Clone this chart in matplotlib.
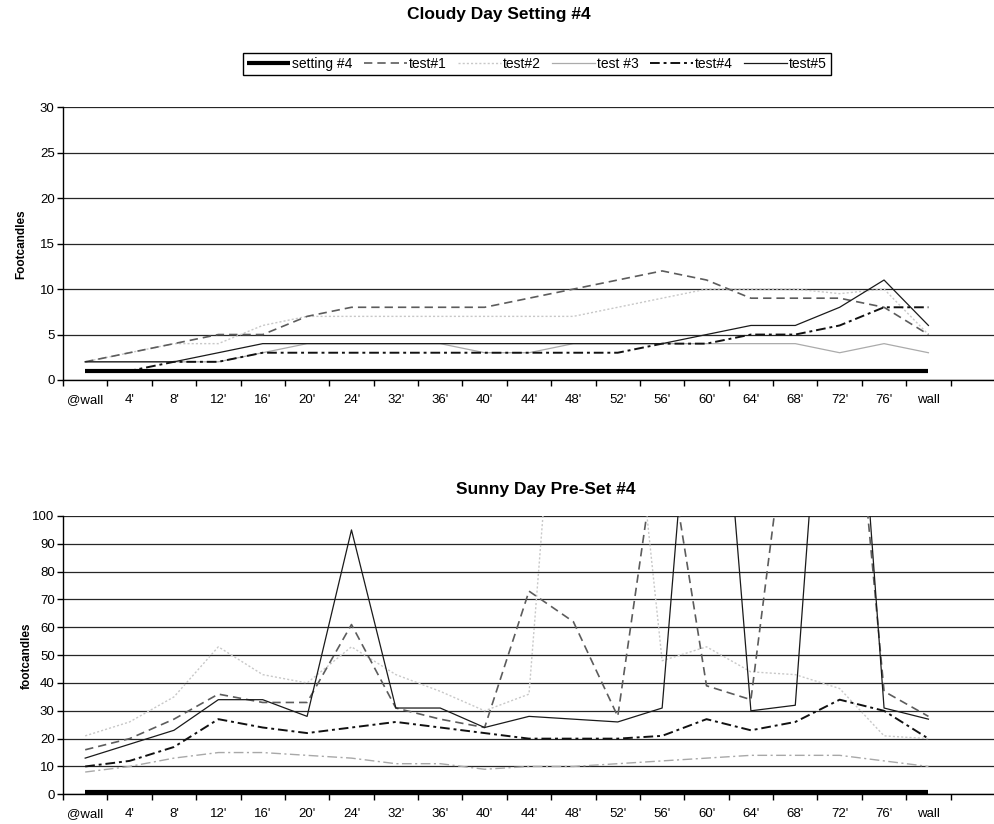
import matplotlib
matplotlib.use("Agg")
import matplotlib.pyplot as plt
from matplotlib.lines import Line2D
import numpy as np

plt.rcParams['font.family'] = ['Liberation Sans', 'DejaVu Sans']

# Measurement positions along the room
positions = ["@wall", "4'", "8'", "12'", "16'", "20'", "24'", "32'", "36'", "40'",
             "44'", "48'", "52'", "56'", "60'", "64'", "68'", "72'", "76'", "wall"]

series_names = ["setting #4", "test#1", "test#2", "test #3", "test#4", "test#5"]

# Cloudy day readings (footcandles)
cloudy_setting4 = [1] * 20
cloudy_test1 = [2, 3, 4, 5, 5, 7, 8, 8, 8, 8, 9, 10, 11, 12, 11, 9, 9, 9, 8, 5]
cloudy_test2 = [2, 3, 4, 4, 6, 7, 7, 7, 7, 7, 7, 7, 8, 9, 10, 10, 10, 9.5, 10, 5]
cloudy_test3 = [2, 2, 2, 2, 3, 4, 4, 4, 4, 3, 3, 4, 4, 4, 4, 4, 4, 3, 4, 3]
cloudy_test4 = [1, 1, 2, 2, 3, 3, 3, 3, 3, 3, 3, 3, 3, 4, 4, 5, 5, 6, 8, 8]
cloudy_test5 = [2, 2, 2, 3, 4, 4, 4, 4, 4, 4, 4, 4, 4, 4, 5, 6, 6, 8, 11, 6]

# Sunny day readings (footcandles)
sunny_setting4 = [1] * 20
sunny_test1 = [16, 20, 27, 36, 33, 33, 61, 31, 27, 24, 73, 62, 28, 139, 39, 34, 160, 210, 37, 28]
sunny_test2 = [21, 26, 35, 53, 43, 40, 53, 43, 37, 30, 36, 240, 200, 48, 53, 44, 43, 38, 21, 20]
sunny_test3 = [8, 10, 13, 15, 15, 14, 13, 11, 11, 9, 10, 10, 11, 12, 13, 14, 14, 14, 12, 10]
sunny_test4 = [10, 12, 17, 27, 24, 22, 24, 26, 24, 22, 20, 20, 20, 21, 27, 23, 26, 34, 30, 20]
sunny_test5 = [13, 18, 23, 34, 34, 28, 95, 31, 31, 24, 28, 27, 26, 31, 225, 30, 32, 250, 31, 27]

W, H = 995, 824
fig = plt.figure(figsize=(W / 100, H / 100), dpi=100)

styles = [
    dict(color='black', lw=3.0, solid_capstyle='butt'),
    dict(color='#5c5c5c', lw=1.2, dashes=(5, 3)),
    dict(color='#c8c8c8', lw=1.0, dashes=(1.5, 1.5)),
    dict(color='#ababab', lw=0.9),
    dict(color='#111111', lw=1.4, dashes=(5, 2, 1.5, 2)),
    dict(color='#1a1a1a', lw=0.9),
]
sunny_test3_style = dict(color='#a8a8a8', lw=1.0, dashes=(7, 2.5, 1.5, 2.5))

x = np.arange(len(positions))
XMAX = 20.165


def setup_axes(ax, ymax, ystep):
    ax.set_xlim(-0.5, XMAX)
    ax.set_ylim(0, ymax)
    ax.set_yticks(np.arange(0, ymax + 0.1, ystep))
    ax.set_yticklabels([f"{v:g}" for v in np.arange(0, ymax + 0.1, ystep)])
    ax.yaxis.grid(True, color='#262626', lw=0.9)
    ax.set_axisbelow(True)
    for s in ('top', 'right'):
        ax.spines[s].set_visible(False)
    for s in ('left', 'bottom'):
        ax.spines[s].set_color('black')
        ax.spines[s].set_linewidth(1.0)
    # ticks at category boundaries, labels at category centres
    ax.set_xticks(np.arange(-0.5, 20.6, 1.0))
    ax.set_xticklabels([])
    ax.set_xticks(x, minor=True)
    ax.set_xticklabels(positions, minor=True)
    ax.tick_params(axis='x', which='major', direction='out', length=4, width=1, color='black')
    ax.tick_params(axis='x', which='minor', length=0, pad=10, labelsize=9.5)
    ax.tick_params(axis='y', direction='out', length=4, width=1, pad=2, labelsize=9.5)


ax1 = fig.add_axes([63 / W, 1 - 380 / H, 1 - 63 / W, (380 - 107.3) / H])
ax2 = fig.add_axes([63 / W, 1 - 794.3 / H, 1 - 63 / W, (794.3 - 516) / H])
setup_axes(ax1, 30, 5)
setup_axes(ax2, 100, 10)

cloudy = [cloudy_setting4, cloudy_test1, cloudy_test2, cloudy_test3, cloudy_test4, cloudy_test5]
sunny = [sunny_setting4, sunny_test1, sunny_test2, sunny_test3, sunny_test4, sunny_test5]

order = [3, 2, 1, 4, 5, 0]
for i in order:
    ax1.plot(x, cloudy[i], **styles[i], zorder=3)
for i in order:
    st = sunny_test3_style if i == 3 else styles[i]
    ax2.plot(x, sunny[i], **st, zorder=3)

fig.text(499 / W, 1 - 19 / H, "Cloudy Day Setting #4", ha='center', va='baseline',
         fontsize=12.5, fontweight='bold')
fig.text(546 / W, 1 - 494 / H, "Sunny Day Pre-Set #4", ha='center', va='baseline',
         fontsize=12.5, fontweight='bold')
fig.text(21 / W, 1 - 244 / H, "Footcandles", rotation=90, ha='center', va='center',
         fontsize=8.5, fontweight='bold')
fig.text(27 / W, 1 - 656 / H, "footcandles", rotation=90, ha='center', va='center',
         fontsize=8.5, fontweight='bold')

handles = [Line2D([0], [0], **styles[i]) for i in range(6)]
leg = fig.legend(handles, series_names, loc='center', bbox_to_anchor=(537 / W, 1 - 64 / H),
                 ncol=6, frameon=True, fancybox=False, edgecolor='black', framealpha=1,
                 fontsize=10, handlelength=3.1, handletextpad=0.15, columnspacing=0.8,
                 borderpad=0.3, borderaxespad=0)
leg.get_frame().set_linewidth(1.0)

fig.savefig("out.png", dpi=100)
